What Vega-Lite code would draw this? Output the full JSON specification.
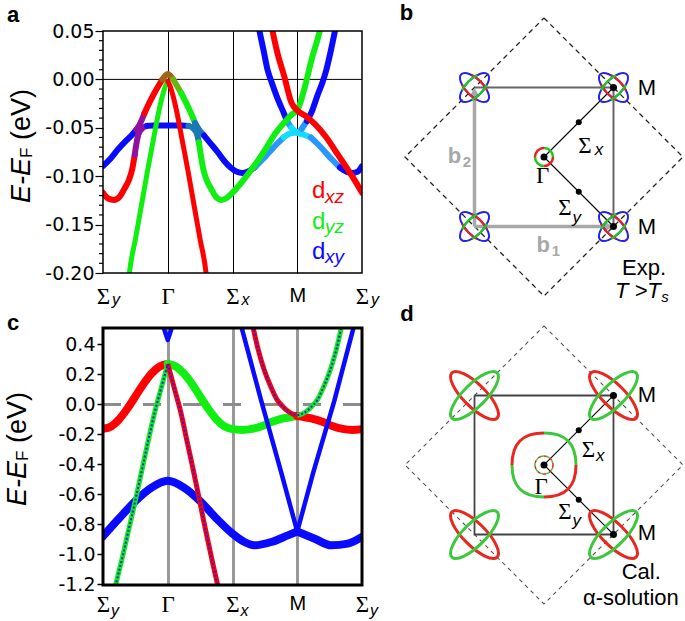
{
"$schema": "https://vega.github.io/schema/vega-lite/v6.json",
"padding": {"left": 3, "top": 2, "right": 0, "bottom": 0},
"background": "white",
"config": {"view": {"stroke": null}, "font": "Liberation Sans"},
"columns": 2,
"bounds": "flush",
"spacing": {"row": 55, "column": 33},
"resolve": {"scale": {"color": "independent"}},
"datasets": {
"A1": [
{"s":"1a","c":"b","k":0,"E":-0.0895},{"s":"1a","c":"b","k":0.114,"E":-0.082},{"s":"1a","c":"b","k":0.222,"E":-0.073},{"s":"1a","c":"b","k":0.331,"E":-0.065},{"s":"1a","c":"b","k":0.439,"E":-0.058},{"s":"1a","c":"b","k":0.516,"E":-0.052},
{"s":"1b","c":"p","k":0.516,"E":-0.052},{"s":"1b","c":"p","k":0.578,"E":-0.045},{"s":"1b","c":"p","k":0.64,"E":-0.035},
{"s":"1c","c":"r","k":0.64,"E":-0.035},{"s":"1c","c":"r","k":0.717,"E":-0.024},{"s":"1c","c":"r","k":0.794,"E":-0.014},{"s":"1c","c":"r","k":0.872,"E":-0.005},{"s":"1c","c":"r","k":0.918,"E":0},
{"s":"1d","c":"br","k":0.918,"E":0},{"s":"1d","c":"br","k":0.964,"E":0.004},{"s":"1d","c":"br","k":1,"E":0.0055},{"s":"1d","c":"br","k":1.036,"E":0.004},{"s":"1d","c":"br","k":1.082,"E":0},
{"s":"1e","c":"ol","k":1.082,"E":0},{"s":"1e","c":"ol","k":1.128,"E":-0.005},{"s":"1e","c":"ol","k":1.206,"E":-0.014},
{"s":"1f","c":"g","k":1.206,"E":-0.014},{"s":"1f","c":"g","k":1.283,"E":-0.024},{"s":"1f","c":"g","k":1.36,"E":-0.035},{"s":"1f","c":"g","k":1.422,"E":-0.045},
{"s":"1g","c":"t","k":1.422,"E":-0.045},{"s":"1g","c":"t","k":1.484,"E":-0.052},{"s":"1g","c":"t","k":1.561,"E":-0.058},
{"s":"1h","c":"b","k":1.561,"E":-0.058},{"s":"1h","c":"b","k":1.66,"E":-0.066},{"s":"1h","c":"b","k":1.77,"E":-0.075},{"s":"1h","c":"b","k":1.87,"E":-0.084},{"s":"1h","c":"b","k":1.97,"E":-0.091},{"s":"1h","c":"b","k":2.07,"E":-0.0955},{"s":"1h","c":"b","k":2.15,"E":-0.0967},{"s":"1h","c":"b","k":2.23,"E":-0.0955},{"s":"1h","c":"b","k":2.34,"E":-0.091},
{"s":"1i","c":"lb","k":2.34,"E":-0.091},{"s":"1i","c":"lb","k":2.46,"E":-0.083},{"s":"1i","c":"lb","k":2.57,"E":-0.075},{"s":"1i","c":"lb","k":2.68,"E":-0.067},{"s":"1i","c":"lb","k":2.79,"E":-0.06},
{"s":"1j","c":"cy","k":2.79,"E":-0.06},{"s":"1j","c":"cy","k":2.88,"E":-0.056},{"s":"1j","c":"cy","k":2.96,"E":-0.055},{"s":"1j","c":"cy","k":3,"E":-0.055},{"s":"1j","c":"cy","k":3.07,"E":-0.051},
{"s":"1k","c":"lb","k":3.07,"E":-0.051},{"s":"1k","c":"lb","k":3.15,"E":-0.043},
{"s":"1l","c":"b","k":3.15,"E":-0.043},{"s":"1l","c":"b","k":3.22,"E":-0.034},{"s":"1l","c":"b","k":3.31,"E":-0.017},{"s":"1l","c":"b","k":3.39,"E":-0.003},{"s":"1l","c":"b","k":3.45,"E":0.01},{"s":"1l","c":"b","k":3.51,"E":0.027},{"s":"1l","c":"b","k":3.57,"E":0.046},{"s":"1l","c":"b","k":3.6,"E":0.056}
],
"A2": [
{"s":"2a","c":"r","k":0,"E":-0.117},{"s":"2a","c":"r","k":0.08,"E":-0.123},{"s":"2a","c":"r","k":0.17,"E":-0.1245},{"s":"2a","c":"r","k":0.26,"E":-0.121},{"s":"2a","c":"r","k":0.33,"E":-0.113},{"s":"2a","c":"r","k":0.4,"E":-0.104},{"s":"2a","c":"r","k":0.45,"E":-0.093},{"s":"2a","c":"r","k":0.49,"E":-0.078},
{"s":"2b","c":"p","k":0.49,"E":-0.078},{"s":"2b","c":"p","k":0.52,"E":-0.065},{"s":"2b","c":"p","k":0.55,"E":-0.056},{"s":"2b","c":"p","k":0.6,"E":-0.051},{"s":"2b","c":"p","k":0.68,"E":-0.048},
{"s":"2c","c":"b","k":0.68,"E":-0.048},{"s":"2c","c":"b","k":0.78,"E":-0.0475},{"s":"2c","c":"b","k":1,"E":-0.0475},{"s":"2c","c":"b","k":1.22,"E":-0.0475},{"s":"2c","c":"b","k":1.32,"E":-0.048},
{"s":"2d","c":"t","k":1.32,"E":-0.048},{"s":"2d","c":"t","k":1.4,"E":-0.051},{"s":"2d","c":"t","k":1.45,"E":-0.056},{"s":"2d","c":"t","k":1.48,"E":-0.065},
{"s":"2e","c":"g","k":1.48,"E":-0.065},{"s":"2e","c":"g","k":1.51,"E":-0.078},{"s":"2e","c":"g","k":1.55,"E":-0.093},{"s":"2e","c":"g","k":1.6,"E":-0.104},{"s":"2e","c":"g","k":1.67,"E":-0.113},{"s":"2e","c":"g","k":1.74,"E":-0.121},{"s":"2e","c":"g","k":1.83,"E":-0.1245},{"s":"2e","c":"g","k":1.92,"E":-0.122},{"s":"2e","c":"g","k":2,"E":-0.117},{"s":"2e","c":"g","k":2.12,"E":-0.108},{"s":"2e","c":"g","k":2.35,"E":-0.088},{"s":"2e","c":"g","k":2.51,"E":-0.072},{"s":"2e","c":"g","k":2.66,"E":-0.056},{"s":"2e","c":"g","k":2.82,"E":-0.043},{"s":"2e","c":"g","k":2.92,"E":-0.036},{"s":"2e","c":"g","k":3,"E":-0.032},{"s":"2e","c":"g","k":3.12,"E":-0.007},{"s":"2e","c":"g","k":3.22,"E":0.02},{"s":"2e","c":"g","k":3.34,"E":0.048},{"s":"2e","c":"g","k":3.37,"E":0.056}
],
"A5": [
{"s":"5a","c":"b","k":2.4,"E":0.056},{"s":"5a","c":"b","k":2.417,"E":0.05},{"s":"5a","c":"b","k":2.48,"E":0.03},{"s":"5a","c":"b","k":2.541,"E":0.01},{"s":"5a","c":"b","k":2.61,"E":-0.004},{"s":"5a","c":"b","k":2.68,"E":-0.017},{"s":"5a","c":"b","k":2.8,"E":-0.036},{"s":"5a","c":"b","k":2.85,"E":-0.044},
{"s":"5b","c":"lb","k":2.85,"E":-0.044},{"s":"5b","c":"lb","k":2.91,"E":-0.05},
{"s":"5c","c":"cy","k":2.91,"E":-0.05},{"s":"5c","c":"cy","k":3,"E":-0.055},{"s":"5c","c":"cy","k":3.1,"E":-0.057},{"s":"5c","c":"cy","k":3.21,"E":-0.06},
{"s":"5d","c":"lb","k":3.21,"E":-0.06},{"s":"5d","c":"lb","k":3.32,"E":-0.067},{"s":"5d","c":"lb","k":3.43,"E":-0.075},{"s":"5d","c":"lb","k":3.54,"E":-0.083},{"s":"5d","c":"lb","k":3.66,"E":-0.091},
{"s":"5e","c":"b","k":3.66,"E":-0.091},{"s":"5e","c":"b","k":3.77,"E":-0.0955},{"s":"5e","c":"b","k":3.85,"E":-0.0967},{"s":"5e","c":"b","k":3.93,"E":-0.0955},{"s":"5e","c":"b","k":4,"E":-0.0895}
],
"A6": [
{"s":"6a","c":"r","k":2.6,"E":0.056},{"s":"6a","c":"r","k":2.618,"E":0.05},{"s":"6a","c":"r","k":2.695,"E":0.027},{"s":"6a","c":"r","k":2.8,"E":0.003},{"s":"6a","c":"r","k":2.91,"E":-0.024},{"s":"6a","c":"r","k":3,"E":-0.032},{"s":"6a","c":"r","k":3.11,"E":-0.037},{"s":"6a","c":"r","k":3.27,"E":-0.046},{"s":"6a","c":"r","k":3.45,"E":-0.06},{"s":"6a","c":"r","k":3.62,"E":-0.077},{"s":"6a","c":"r","k":3.77,"E":-0.092},{"s":"6a","c":"r","k":3.886,"E":-0.104},{"s":"6a","c":"r","k":4,"E":-0.117}
],
"A3": [
{"s":"3a","c":"g","k":0.4,"E":-0.205},{"s":"3a","c":"g","k":0.408,"E":-0.2},{"s":"3a","c":"g","k":0.501,"E":-0.165},{"s":"3a","c":"g","k":0.594,"E":-0.13},{"s":"3a","c":"g","k":0.686,"E":-0.095},{"s":"3a","c":"g","k":0.779,"E":-0.062},{"s":"3a","c":"g","k":0.856,"E":-0.035},{"s":"3a","c":"g","k":0.918,"E":-0.017},{"s":"3a","c":"g","k":0.964,"E":-0.007},{"s":"3a","c":"g","k":1,"E":-0.002},
{"s":"3b","c":"r","k":1,"E":-0.002},{"s":"3b","c":"r","k":1.036,"E":-0.007},{"s":"3b","c":"r","k":1.082,"E":-0.017},{"s":"3b","c":"r","k":1.144,"E":-0.035},{"s":"3b","c":"r","k":1.221,"E":-0.062},{"s":"3b","c":"r","k":1.314,"E":-0.095},{"s":"3b","c":"r","k":1.406,"E":-0.13},{"s":"3b","c":"r","k":1.499,"E":-0.165},{"s":"3b","c":"r","k":1.592,"E":-0.2},{"s":"3b","c":"r","k":1.6,"E":-0.205}
],
"Ct": [
{"s":"c1","c":"r","k":0,"E":-0.163},{"s":"c1","c":"r","k":0.125,"E":-0.147},{"s":"c1","c":"r","k":0.25,"E":-0.099},{"s":"c1","c":"r","k":0.375,"E":-0.029},{"s":"c1","c":"r","k":0.5,"E":0.053},{"s":"c1","c":"r","k":0.625,"E":0.136},{"s":"c1","c":"r","k":0.75,"E":0.206},{"s":"c1","c":"r","k":0.875,"E":0.253},{"s":"c1","c":"r","k":1,"E":0.27},
{"s":"c2","c":"g","k":1,"E":0.27},{"s":"c2","c":"g","k":1.125,"E":0.253},{"s":"c2","c":"g","k":1.25,"E":0.206},{"s":"c2","c":"g","k":1.375,"E":0.136},{"s":"c2","c":"g","k":1.5,"E":0.053},{"s":"c2","c":"g","k":1.625,"E":-0.029},{"s":"c2","c":"g","k":1.75,"E":-0.099},{"s":"c2","c":"g","k":1.875,"E":-0.147},{"s":"c2","c":"g","k":2,"E":-0.165},{"s":"c2","c":"g","k":2.15,"E":-0.17},{"s":"c2","c":"g","k":2.3,"E":-0.163},{"s":"c2","c":"g","k":2.45,"E":-0.145},{"s":"c2","c":"g","k":2.6,"E":-0.118},{"s":"c2","c":"g","k":2.8,"E":-0.092},{"s":"c2","c":"g","k":3,"E":-0.077},
{"s":"c3","c":"r","k":3,"E":-0.077},{"s":"c3","c":"r","k":3.2,"E":-0.092},{"s":"c3","c":"r","k":3.4,"E":-0.118},{"s":"c3","c":"r","k":3.55,"E":-0.145},{"s":"c3","c":"r","k":3.7,"E":-0.163},{"s":"c3","c":"r","k":3.85,"E":-0.17},{"s":"c3","c":"r","k":4,"E":-0.165},
{"s":"c4","c":"b","k":0,"E":-0.88},{"s":"c4","c":"b","k":0.25,"E":-0.76},{"s":"c4","c":"b","k":0.5,"E":-0.645},{"s":"c4","c":"b","k":0.75,"E":-0.555},{"s":"c4","c":"b","k":1,"E":-0.51},{"s":"c4","c":"b","k":1.25,"E":-0.555},{"s":"c4","c":"b","k":1.5,"E":-0.645},{"s":"c4","c":"b","k":1.75,"E":-0.76},{"s":"c4","c":"b","k":2,"E":-0.862},{"s":"c4","c":"b","k":2.17,"E":-0.915},{"s":"c4","c":"b","k":2.34,"E":-0.94},{"s":"c4","c":"b","k":2.6,"E":-0.918},{"s":"c4","c":"b","k":2.855,"E":-0.874},{"s":"c4","c":"b","k":3,"E":-0.848},
{"s":"c5","c":"b","k":3,"E":-0.848},{"s":"c5","c":"b","k":3.27,"E":-0.896},{"s":"c5","c":"b","k":3.525,"E":-0.94},{"s":"c5","c":"b","k":3.78,"E":-0.929},{"s":"c5","c":"b","k":4,"E":-0.884}
],
"Cs": [
{"s":"c6","c":"b","k":2.13,"E":0.53},{"s":"c6","c":"b","k":2.44,"E":0.03},{"s":"c6","c":"b","k":2.75,"E":-0.45},{"s":"c6","c":"b","k":3,"E":-0.848},
{"s":"c7","c":"b","k":3,"E":-0.848},{"s":"c7","c":"b","k":3.25,"E":-0.45},{"s":"c7","c":"b","k":3.57,"E":0.02},{"s":"c7","c":"b","k":3.88,"E":0.53},
{"s":"c12","c":"b","k":0.9,"E":0.56},{"s":"c12","c":"b","k":1,"E":0.43},{"s":"c12","c":"b","k":1.1,"E":0.56}
],
"Ca": [
{"s":"c8","c":"r","k":2.3,"E":0.55},{"s":"c8","c":"r","k":2.32,"E":0.51},{"s":"c8","c":"r","k":2.4,"E":0.36},{"s":"c8","c":"r","k":2.49,"E":0.23},{"s":"c8","c":"r","k":2.6,"E":0.11},{"s":"c8","c":"r","k":2.69,"E":0.03},{"s":"c8","c":"r","k":2.78,"E":-0.015},{"s":"c8","c":"r","k":2.84,"E":-0.04},{"s":"c8","c":"r","k":2.92,"E":-0.062},{"s":"c8","c":"r","k":3,"E":-0.072},
{"s":"c9","c":"g","k":3,"E":-0.072},{"s":"c9","c":"g","k":3.08,"E":-0.062},{"s":"c9","c":"g","k":3.16,"E":-0.04},{"s":"c9","c":"g","k":3.22,"E":-0.015},{"s":"c9","c":"g","k":3.31,"E":0.03},{"s":"c9","c":"g","k":3.4,"E":0.11},{"s":"c9","c":"g","k":3.51,"E":0.23},{"s":"c9","c":"g","k":3.6,"E":0.36},{"s":"c9","c":"g","k":3.68,"E":0.51},{"s":"c9","c":"g","k":3.7,"E":0.55},
{"s":"c10","c":"g","k":0.18,"E":-1.24},{"s":"c10","c":"g","k":0.2,"E":-1.2},{"s":"c10","c":"g","k":0.3,"E":-1.02},{"s":"c10","c":"g","k":0.4,"E":-0.83},{"s":"c10","c":"g","k":0.5,"E":-0.64},{"s":"c10","c":"g","k":0.6,"E":-0.44},{"s":"c10","c":"g","k":0.7,"E":-0.24},{"s":"c10","c":"g","k":0.8,"E":-0.05},{"s":"c10","c":"g","k":0.9,"E":0.11},{"s":"c10","c":"g","k":1,"E":0.27},
{"s":"c11","c":"r","k":1,"E":0.27},{"s":"c11","c":"r","k":1.1,"E":0.11},{"s":"c11","c":"r","k":1.2,"E":-0.05},{"s":"c11","c":"r","k":1.3,"E":-0.25},{"s":"c11","c":"r","k":1.4,"E":-0.45},{"s":"c11","c":"r","k":1.5,"E":-0.66},{"s":"c11","c":"r","k":1.6,"E":-0.87},{"s":"c11","c":"r","k":1.7,"E":-1.07},{"s":"c11","c":"r","k":1.8,"E":-1.26}
],
"LB": [
{"g":"dia","o":0,"u":0,"v":2},{"g":"dia","o":1,"u":2,"v":0},{"g":"dia","o":2,"u":0,"v":-2},{"g":"dia","o":3,"u":-2,"v":0},{"g":"dia","o":4,"u":0,"v":2},
{"g":"sq","o":0,"u":-1,"v":1},{"g":"sq","o":1,"u":1,"v":1},{"g":"sq","o":2,"u":1,"v":-1},
{"g":"b2","o":0,"u":-1,"v":-1},{"g":"b2","o":1,"u":-1,"v":0.95},
{"g":"b1","o":0,"u":-1,"v":-1},{"g":"b1","o":1,"u":0.95,"v":-1},
{"g":"gm1","o":0,"u":0,"v":0},{"g":"gm1","o":1,"u":1,"v":1},
{"g":"gm2","o":0,"u":0,"v":0},{"g":"gm2","o":1,"u":1,"v":-1}
],
"LD": [
{"g":"dia","o":0,"u":0,"v":2},{"g":"dia","o":1,"u":2,"v":0},{"g":"dia","o":2,"u":0,"v":-2},{"g":"dia","o":3,"u":-2,"v":0},{"g":"dia","o":4,"u":0,"v":2},
{"g":"sq","o":0,"u":-1,"v":1},{"g":"sq","o":1,"u":1,"v":1},{"g":"sq","o":2,"u":1,"v":-1},{"g":"sq","o":3,"u":-1,"v":-1},{"g":"sq","o":4,"u":-1,"v":1},
{"g":"gm1","o":0,"u":0,"v":0},{"g":"gm1","o":1,"u":1,"v":1},
{"g":"gm2","o":0,"u":0,"v":0},{"g":"gm2","o":1,"u":1,"v":-1}
],
"corners": [{"u":-1,"v":1},{"u":1,"v":1},{"u":-1,"v":-1},{"u":1,"v":-1}],
"TB": [
{"f":"serif","t":"Γ","u":-0.02,"v":-0.27},{"f":"serif","t":"Σ","u":0.59,"v":0.165},{"f":"serif","t":"Σ","u":0.3,"v":-0.74},
{"f":"sub","t":"x","u":0.79,"v":0.094},{"f":"sub","t":"y","u":0.47,"v":-0.88},
{"f":"sans","t":"M","u":1.48,"v":0.99},{"f":"sans","t":"M","u":1.48,"v":-1.01},{"f":"sans","t":"Exp.","u":1.44,"v":-1.6},
{"f":"it","t":"T >T","u":1.35,"v":-1.93},{"f":"sub2","t":"s","u":1.74,"v":-2.01},
{"f":"gb","t":"b","u":-1.29,"v":0.01},{"f":"gb","t":"b","u":-0.01,"v":-1.27},{"f":"gs","t":"2","u":-1.11,"v":-0.065},{"f":"gs","t":"1","u":0.17,"v":-1.35},
{"f":"lab","t":"b","u":-1.978,"v":2.065}
],
"TD": [
{"f":"serif","t":"Γ","u":-0.04,"v":-0.32},{"f":"serif","t":"Σ","u":0.64,"v":0.22},{"f":"serif","t":"Σ","u":0.3,"v":-0.68},
{"f":"sub","t":"x","u":0.81,"v":0.13},{"f":"sub","t":"y","u":0.47,"v":-0.8},
{"f":"sans","t":"M","u":1.48,"v":1.01},{"f":"sans","t":"M","u":1.48,"v":-0.98},{"f":"sans","t":"Cal.","u":1.4,"v":-1.54},{"f":"sans","t":"α-solution","u":1.25,"v":-1.92},
{"f":"lab","t":"d","u":-1.971,"v":2.173}
]
},
"concat": [
{
"width": 259, "height": 242,
"encoding": {
 "x": {"field":"k","type":"quantitative","scale":{"domain":[0,4],"nice":false,"zero":false},"axis":{"values":[0,1,2,3,4],"labelExpr":"['Σ','Γ','Σ','M','Σ'][datum.value]","ticks":false,"domain":false,"grid":true,"gridColor":"#000","gridWidth":1,"gridOpacity":{"condition":{"test":"datum.value==0||datum.value==4","value":0},"value":1},"labelFontSize":{"condition":{"test":"datum.value==3","value":20},"value":23},"labelFont":{"condition":{"test":"datum.value==3","value":"Liberation Sans"},"value":"Liberation Serif"},"labelColor":"#000","labelPadding":12,"labelFlush":false,"labelOverlap":false,"labelBound":false,"title":null}},
 "y": {"field":"E","type":"quantitative","scale":{"domain":[-0.2,0.05],"nice":false,"zero":false},"axis":{"values":[-0.2,-0.15,-0.1,-0.05,0,0.05],"labelExpr":"replace(format(datum.value,'.2f'),'\u2212','-')","tickSize":8,"tickColor":"#000","tickWidth":1.2,"domain":false,"grid":false,"labelFont":"DejaVu Sans","labelFontSize":19,"labelColor":"#000","labelPadding":1,"labelOverlap":false,"labelBound":false,"labelFlush":false,"title":null}}
},
"layer": [
 {"data":{"values":[{"k":0,"k2":4,"E":0}]},"mark":{"type":"rule","color":"#000","strokeWidth":1},"encoding":{"x2":{"field":"k2"}}},
 {"data":{"name":"A5"},"mark":{"type":"line","strokeWidth":6,"clip":true,"interpolate":"monotone","strokeCap":"round","strokeJoin":"round"},"encoding":{"detail":{"field":"s"},"color":{"field":"c","type":"nominal","scale":{"domain":["r","g","b","p","br","ol","t","lb","cy"],"range":["#ff0000","#11ee11","#0a0aff","#9010a0","#a0641a","#6ab414","#1a78b4","#2a96ff","#16dcff"]},"legend":null}}},
 {"data":{"name":"A1"},"mark":{"type":"line","strokeWidth":6,"clip":true,"interpolate":"monotone","strokeCap":"round","strokeJoin":"round"},"encoding":{"detail":{"field":"s"},"color":{"field":"c","type":"nominal","scale":{"domain":["r","g","b","p","br","ol","t","lb","cy"],"range":["#ff0000","#11ee11","#0a0aff","#9010a0","#a0641a","#6ab414","#1a78b4","#2a96ff","#16dcff"]},"legend":null}}},
 {"data":{"name":"A2"},"mark":{"type":"line","strokeWidth":6,"clip":true,"interpolate":"monotone","strokeCap":"round","strokeJoin":"round"},"encoding":{"detail":{"field":"s"},"color":{"field":"c","type":"nominal","scale":{"domain":["r","g","b","p","br","ol","t","lb","cy"],"range":["#ff0000","#11ee11","#0a0aff","#9010a0","#a0641a","#6ab414","#1a78b4","#2a96ff","#16dcff"]},"legend":null}}},
 {"data":{"name":"A6"},"mark":{"type":"line","strokeWidth":6,"clip":true,"interpolate":"monotone","strokeCap":"round","strokeJoin":"round"},"encoding":{"detail":{"field":"s"},"color":{"field":"c","type":"nominal","scale":{"domain":["r","g","b","p","br","ol","t","lb","cy"],"range":["#ff0000","#11ee11","#0a0aff","#9010a0","#a0641a","#6ab414","#1a78b4","#2a96ff","#16dcff"]},"legend":null}}},
 {"data":{"name":"A3"},"mark":{"type":"line","strokeWidth":5,"clip":true,"interpolate":"monotone","strokeCap":"round","strokeJoin":"round"},"encoding":{"detail":{"field":"s"},"color":{"field":"c","type":"nominal","scale":{"domain":["r","g","b","p","br","ol","t","lb","cy"],"range":["#ff0000","#11ee11","#0a0aff","#9010a0","#a0641a","#6ab414","#1a78b4","#2a96ff","#16dcff"]},"legend":null}}},
 {"data":{"values":[{"k":0,"E":0.04},{"k":0,"E":0.03},{"k":0,"E":0.02},{"k":0,"E":0.01},{"k":0,"E":-0.01},{"k":0,"E":-0.02},{"k":0,"E":-0.03},{"k":0,"E":-0.04},{"k":0,"E":-0.06},{"k":0,"E":-0.07},{"k":0,"E":-0.08},{"k":0,"E":-0.09},{"k":0,"E":-0.11},{"k":0,"E":-0.12},{"k":0,"E":-0.13},{"k":0,"E":-0.14},{"k":0,"E":-0.16},{"k":0,"E":-0.17},{"k":0,"E":-0.18},{"k":0,"E":-0.19}]},"mark":{"type":"tick","orient":"horizontal","size":4,"thickness":1.2,"color":"#000","xOffset":-2,"opacity":1}},
 {"data":{"values":[{"k":0,"k2":4,"E":-0.2,"E2":0.05}]},"mark":{"type":"rect","fillOpacity":0,"stroke":"#000","strokeWidth":1.5},"encoding":{"x2":{"field":"k2"},"y2":{"field":"E2"}}},
 {"data":{"values":[{"k":0,"E":-0.2,"t":"y"},{"k":2,"E":-0.2,"t":"x"},{"k":4,"E":-0.2,"t":"y"}]},"mark":{"type":"text","font":"Liberation Sans","fontStyle":"italic","fontSize":16,"dx":13,"dy":27,"color":"#000"},"encoding":{"text":{"field":"t"}}},
 {"data":{"values":[{"k":3.33,"E":-0.1158,"t":"d","c":"r"},{"k":3.33,"E":-0.1468,"t":"d","c":"g"},{"k":3.33,"E":-0.1778,"t":"d","c":"b"}]},"mark":{"type":"text","font":"Liberation Sans","fontSize":24},"encoding":{"text":{"field":"t"},"color":{"field":"c","type":"nominal","scale":{"domain":["r","g","b","p","br","ol","t","lb","cy"],"range":["#ff0000","#11ee11","#0a0aff","#9010a0","#a0641a","#6ab414","#1a78b4","#2a96ff","#16dcff"]},"legend":null}}},
 {"data":{"values":[{"k":3.577,"E":-0.1215,"t":"xz","c":"r"},{"k":3.577,"E":-0.1525,"t":"yz","c":"g"},{"k":3.577,"E":-0.1835,"t":"xy","c":"b"}]},"mark":{"type":"text","font":"Liberation Sans","fontStyle":"italic","fontSize":19},"encoding":{"text":{"field":"t"},"color":{"field":"c","type":"nominal","scale":{"domain":["r","g","b","p","br","ol","t","lb","cy"],"range":["#ff0000","#11ee11","#0a0aff","#9010a0","#a0641a","#6ab414","#1a78b4","#2a96ff","#16dcff"]},"legend":null}}},
 {"data":{"values":[{"k":0,"E":-0.075}]},"mark":{"type":"text","text":"E-E","font":"Liberation Sans","fontStyle":"italic","fontSize":27,"angle":270,"dx":-28.5,"dy":-81,"color":"#000"}},
 {"data":{"values":[{"k":0,"E":-0.075}]},"mark":{"type":"text","text":"F","font":"Liberation Sans","fontSize":17,"angle":270,"dx":-0.8,"dy":-76,"color":"#000"}},
 {"data":{"values":[{"k":0,"E":-0.075}]},"mark":{"type":"text","text":"(eV)","font":"Liberation Sans","fontSize":27,"angle":270,"dx":37.5,"dy":-81,"color":"#000"}},
 {"data":{"values":[{"k":0,"E":0.05}]},"mark":{"type":"text","text":"a","font":"Liberation Sans","fontWeight":"bold","fontSize":22,"dx":-90,"dy":-16,"color":"#000"}}
]
},
{
"width": 290, "height": 242,
"encoding": {
 "x": {"field":"u","type":"quantitative","scale":{"domain":[-2.144,2.029],"nice":false,"zero":false},"axis":null},
 "y": {"field":"v","type":"quantitative","scale":{"domain":[-1.669,1.813],"nice":false,"zero":false},"axis":null}
},
"layer": [
 {"data":{"name":"LB"},"transform":[{"filter":"datum.g=='dia'"}],"mark":{"type":"line","color":"#222","strokeWidth":1.3,"strokeDash":[5,4]},"encoding":{"order":{"field":"o"}}},
 {"data":{"name":"LB"},"transform":[{"filter":"datum.g=='sq'"}],"mark":{"type":"line","color":"#666","strokeWidth":2},"encoding":{"order":{"field":"o"}}},
 {"data":{"name":"LB"},"transform":[{"filter":"datum.g=='b1'||datum.g=='b2'"}],"mark":{"type":"line","color":"#a8a8a8","strokeWidth":3.5},"encoding":{"detail":{"field":"g"},"order":{"field":"o"}}},
 {"data":{"values":[{"u":0.93,"v":-1}]},"mark":{"type":"point","shape":"triangle-right","filled":true,"color":"#a8a8a8","size":110,"opacity":1}},
 {"data":{"values":[{"u":-1,"v":0.93}]},"mark":{"type":"point","shape":"triangle-up","filled":true,"color":"#a8a8a8","size":110,"opacity":1}},
 {"data":{"name":"LB"},"transform":[{"filter":"datum.g=='gm1'||datum.g=='gm2'"}],"mark":{"type":"line","color":"#000","strokeWidth":1.1},"encoding":{"detail":{"field":"g"},"order":{"field":"o"}}},
 {"data":{"name":"corners"},"mark":{"type":"point","shape":"M1,0C1,0.2485,0.5523,0.45,0,0.45C-0.5523,0.45,-1,0.2485,-1,0C-1,-0.2485,-0.5523,-0.45,0,-0.45C0.5523,-0.45,1,-0.2485,1,0Z","filled":false,"stroke":"#2424e8","strokeWidth":2,"size":1400,"angle":45,"opacity":1}},
 {"data":{"name":"corners"},"mark":{"type":"point","shape":"M1,0C1,0.2485,0.5523,0.45,0,0.45C-0.5523,0.45,-1,0.2485,-1,0C-1,-0.2485,-0.5523,-0.45,0,-0.45C0.5523,-0.45,1,-0.2485,1,0Z","filled":false,"stroke":"#2424e8","strokeWidth":2,"size":1400,"angle":315,"opacity":1}},
 {"data":{"name":"corners"},"mark":{"type":"point","shape":"M0.574,0.369C0.229,0.477,-0.229,0.477,-0.574,0.369M0.574,-0.369C0.229,-0.477,-0.229,-0.477,-0.574,-0.369","filled":false,"stroke":"#e82020","strokeWidth":2.2,"size":1400,"angle":45,"opacity":1}},
 {"data":{"name":"corners"},"mark":{"type":"point","shape":"M0.574,0.369C0.229,0.477,-0.229,0.477,-0.574,0.369M0.574,-0.369C0.229,-0.477,-0.229,-0.477,-0.574,-0.369","filled":false,"stroke":"#1ec81e","strokeWidth":2.2,"size":1400,"angle":315,"opacity":1}},
 {"data":{"values":[{"u":0,"v":0}]},"mark":{"type":"point","shape":"M0,-1C-0.5523,-1,-1,-0.5523,-1,0M0,1C0.5523,1,1,0.5523,1,0","filled":false,"stroke":"#e82020","strokeWidth":2.5,"size":324,"opacity":1}},
 {"data":{"values":[{"u":0,"v":0}]},"mark":{"type":"point","shape":"M1,0C1,-0.5523,0.5523,-1,0,-1M-1,0C-1,0.5523,-0.5523,1,0,1","filled":false,"stroke":"#1ec81e","strokeWidth":2.5,"size":324,"opacity":1}},
 {"data":{"values":[{"u":0,"v":0},{"u":1,"v":1},{"u":1,"v":-1}]},"mark":{"type":"point","shape":"circle","filled":true,"color":"#000","size":49,"opacity":1}},
 {"data":{"values":[{"u":0.5,"v":0.5},{"u":0.5,"v":-0.5}]},"mark":{"type":"point","shape":"circle","filled":true,"color":"#000","size":36,"opacity":1}},
 {"data":{"name":"TB"},"transform":[{"filter":"datum.f=='serif'"}],"mark":{"type":"text","font":"Liberation Serif","fontSize":23,"color":"#000"},"encoding":{"text":{"field":"t"}}},
 {"data":{"name":"TB"},"transform":[{"filter":"datum.f=='sub'"}],"mark":{"type":"text","font":"Liberation Sans","fontStyle":"italic","fontSize":17,"color":"#000"},"encoding":{"text":{"field":"t"}}},
 {"data":{"name":"TB"},"transform":[{"filter":"datum.f=='sans'"}],"mark":{"type":"text","font":"Liberation Sans","fontSize":22,"color":"#000"},"encoding":{"text":{"field":"t"}}},
 {"data":{"name":"TB"},"transform":[{"filter":"datum.f=='it'"}],"mark":{"type":"text","font":"Liberation Sans","fontStyle":"italic","fontSize":22,"color":"#000"},"encoding":{"text":{"field":"t"}}},
 {"data":{"name":"TB"},"transform":[{"filter":"datum.f=='sub2'"}],"mark":{"type":"text","font":"Liberation Sans","fontStyle":"italic","fontSize":15,"color":"#000"},"encoding":{"text":{"field":"t"}}},
 {"data":{"name":"TB"},"transform":[{"filter":"datum.f=='gb'"}],"mark":{"type":"text","font":"Liberation Sans","fontWeight":"bold","fontSize":22,"color":"#a8a8a8"},"encoding":{"text":{"field":"t"}}},
 {"data":{"name":"TB"},"transform":[{"filter":"datum.f=='gs'"}],"mark":{"type":"text","font":"Liberation Sans","fontWeight":"bold","fontSize":15,"color":"#a8a8a8"},"encoding":{"text":{"field":"t"}}},
 {"data":{"name":"TB"},"transform":[{"filter":"datum.f=='lab'"}],"mark":{"type":"text","font":"Liberation Sans","fontWeight":"bold","fontSize":22,"color":"#000"},"encoding":{"text":{"field":"t"}}}
]
},
{
"width": 259, "height": 257,
"encoding": {
 "x": {"field":"k","type":"quantitative","scale":{"domain":[0,4],"nice":false,"zero":false},"axis":{"values":[0,1,2,3,4],"labelExpr":"['Σ','Γ','Σ','M','Σ'][datum.value]","ticks":false,"domain":false,"grid":true,"gridColor":"#999","gridWidth":3,"gridOpacity":{"condition":{"test":"datum.value==0||datum.value==4","value":0},"value":1},"labelFontSize":{"condition":{"test":"datum.value==3","value":20},"value":23},"labelFont":{"condition":{"test":"datum.value==3","value":"Liberation Sans"},"value":"Liberation Serif"},"labelColor":"#000","labelPadding":8,"labelFlush":false,"labelOverlap":false,"labelBound":false,"title":null}},
 "y": {"field":"E","type":"quantitative","scale":{"domain":[-1.205,0.51],"nice":false,"zero":false},"axis":{"values":[-1.2,-1,-0.8,-0.6,-0.4,-0.2,0,0.2,0.4],"labelExpr":"replace(format(datum.value,'.1f'),'\u2212','-')","tickSize":6,"tickColor":"#000","tickWidth":1.5,"domain":false,"grid":false,"labelFont":"DejaVu Sans","labelFontSize":19,"labelColor":"#000","labelPadding":2,"labelOverlap":false,"labelBound":false,"labelFlush":false,"title":null}}
},
"layer": [
 {"data":{"values":[{"k":0,"k2":4,"E":0}]},"mark":{"type":"rule","color":"#8c8c8c","strokeWidth":3,"strokeDash":[18,22]},"encoding":{"x2":{"field":"k2"}}},
 {"data":{"name":"Ct"},"mark":{"type":"line","strokeWidth":8,"clip":true,"interpolate":"monotone","strokeCap":"round","strokeJoin":"round"},"encoding":{"detail":{"field":"s"},"color":{"field":"c","type":"nominal","scale":{"domain":["r","g","b","p","br","ol","t","lb","cy"],"range":["#ff0000","#11ee11","#0a0aff","#9010a0","#a0641a","#6ab414","#1a78b4","#2a96ff","#16dcff"]},"legend":null}}},
 {"data":{"name":"Cs"},"mark":{"type":"line","strokeWidth":4.5,"clip":true,"strokeJoin":"round"},"encoding":{"detail":{"field":"s"},"color":{"field":"c","type":"nominal","scale":{"domain":["r","g","b","p","br","ol","t","lb","cy"],"range":["#ff0000","#11ee11","#0a0aff","#9010a0","#a0641a","#6ab414","#1a78b4","#2a96ff","#16dcff"]},"legend":null}}},
 {"data":{"name":"Ca"},"mark":{"type":"line","strokeWidth":5,"clip":true,"interpolate":"monotone","strokeJoin":"round"},"encoding":{"detail":{"field":"s"},"color":{"field":"c","type":"nominal","scale":{"domain":["r","g","b","p","br","ol","t","lb","cy"],"range":["#ff0000","#11ee11","#0a0aff","#9010a0","#a0641a","#6ab414","#1a78b4","#2a96ff","#16dcff"]},"legend":null}}},
 {"data":{"name":"Ca"},"mark":{"type":"line","strokeWidth":2,"clip":true,"interpolate":"monotone","color":"#1a1aff","strokeDash":[2,2]},"encoding":{"detail":{"field":"s"}}},
 {"data":{"values":[{"k":0,"k2":4,"E":-1.205,"E2":0.51}]},"mark":{"type":"rect","fillOpacity":0,"stroke":"#000","strokeWidth":3},"encoding":{"x2":{"field":"k2"},"y2":{"field":"E2"}}},
 {"data":{"values":[{"k":0,"E":-1.205,"t":"y"},{"k":2,"E":-1.205,"t":"x"},{"k":4,"E":-1.205,"t":"y"}]},"mark":{"type":"text","font":"Liberation Sans","fontStyle":"italic","fontSize":16,"dx":12,"dy":26,"color":"#000"},"encoding":{"text":{"field":"t"}}},
 {"data":{"values":[{"k":0,"E":-0.3475}]},"mark":{"type":"text","text":"E-E","font":"Liberation Sans","fontStyle":"italic","fontSize":27,"angle":270,"dx":-27,"dy":-85,"color":"#000"}},
 {"data":{"values":[{"k":0,"E":-0.3475}]},"mark":{"type":"text","text":"F","font":"Liberation Sans","fontSize":17,"angle":270,"dx":0.7,"dy":-80,"color":"#000"}},
 {"data":{"values":[{"k":0,"E":-0.3475}]},"mark":{"type":"text","text":"(eV)","font":"Liberation Sans","fontSize":27,"angle":270,"dx":39,"dy":-85,"color":"#000"}},
 {"data":{"values":[{"k":0,"E":0.51}]},"mark":{"type":"text","text":"c","font":"Liberation Sans","fontWeight":"bold","fontSize":22,"dx":-90,"dy":-5,"color":"#000"}}
]
},
{
"width": 290, "height": 257,
"encoding": {
 "x": {"field":"u","type":"quantitative","scale":{"domain":[-2.144,2.029],"nice":false,"zero":false},"axis":null},
 "y": {"field":"v","type":"quantitative","scale":{"domain":[-1.727,1.971],"nice":false,"zero":false},"axis":null}
},
"layer": [
 {"data":{"name":"LD"},"transform":[{"filter":"datum.g=='dia'"}],"mark":{"type":"line","color":"#555","strokeWidth":1.1,"strokeDash":[4,4]},"encoding":{"order":{"field":"o"}}},
 {"data":{"name":"LD"},"transform":[{"filter":"datum.g=='sq'"}],"mark":{"type":"line","color":"#444","strokeWidth":1.8},"encoding":{"order":{"field":"o"}}},
 {"data":{"name":"LD"},"transform":[{"filter":"datum.g=='gm1'||datum.g=='gm2'"}],"mark":{"type":"line","color":"#000","strokeWidth":1.1},"encoding":{"detail":{"field":"g"},"order":{"field":"o"}}},
 {"data":{"name":"corners"},"mark":{"type":"point","shape":"M1,0C1,0.1933,0.5523,0.35,0,0.35C-0.5523,0.35,-1,0.1933,-1,0C-1,-0.1933,-0.5523,-0.35,0,-0.35C0.5523,-0.35,1,-0.1933,1,0Z","filled":false,"stroke":"#e8281e","strokeWidth":3,"size":4096,"angle":45,"opacity":1}},
 {"data":{"name":"corners"},"mark":{"type":"point","shape":"M1,0C1,0.1933,0.5523,0.35,0,0.35C-0.5523,0.35,-1,0.1933,-1,0C-1,-0.1933,-0.5523,-0.35,0,-0.35C0.5523,-0.35,1,-0.1933,1,0Z","filled":false,"stroke":"#3cc83c","strokeWidth":3,"size":4096,"angle":315,"opacity":1}},
 {"data":{"values":[{"u":0,"v":0}]},"mark":{"type":"point","shape":"M0,-1C-0.68,-1,-1,-0.68,-1,0M0,1C0.68,1,1,0.68,1,0","filled":false,"stroke":"#e8281e","strokeWidth":3,"size":4096,"opacity":1}},
 {"data":{"values":[{"u":0,"v":0}]},"mark":{"type":"point","shape":"M1,0C1,-0.68,0.68,-1,0,-1M-1,0C-1,0.68,-0.68,1,0,1","filled":false,"stroke":"#3cc83c","strokeWidth":3,"size":4096,"opacity":1}},
 {"data":{"values":[{"u":0,"v":0}]},"mark":{"type":"point","shape":"circle","filled":false,"stroke":"#e8281e","strokeWidth":1.5,"strokeDash":[3,3],"size":324,"opacity":1}},
 {"data":{"values":[{"u":0,"v":0}]},"mark":{"type":"point","shape":"circle","filled":false,"stroke":"#3cc83c","strokeWidth":1.5,"strokeDash":[3,3],"strokeDashOffset":3,"size":324,"opacity":1}},
 {"data":{"values":[{"u":0,"v":0},{"u":1,"v":1},{"u":1,"v":-1}]},"mark":{"type":"point","shape":"circle","filled":true,"color":"#000","size":49,"opacity":1}},
 {"data":{"values":[{"u":0.5,"v":0.5},{"u":0.5,"v":-0.5}]},"mark":{"type":"point","shape":"circle","filled":true,"color":"#000","size":36,"opacity":1}},
 {"data":{"name":"TD"},"transform":[{"filter":"datum.f=='serif'"}],"mark":{"type":"text","font":"Liberation Serif","fontSize":23,"color":"#000"},"encoding":{"text":{"field":"t"}}},
 {"data":{"name":"TD"},"transform":[{"filter":"datum.f=='sub'"}],"mark":{"type":"text","font":"Liberation Sans","fontStyle":"italic","fontSize":17,"color":"#000"},"encoding":{"text":{"field":"t"}}},
 {"data":{"name":"TD"},"transform":[{"filter":"datum.f=='sans'"}],"mark":{"type":"text","font":"Liberation Sans","fontSize":22,"color":"#000"},"encoding":{"text":{"field":"t"}}},
 {"data":{"name":"TD"},"transform":[{"filter":"datum.f=='lab'"}],"mark":{"type":"text","font":"Liberation Sans","fontWeight":"bold","fontSize":22,"color":"#000"},"encoding":{"text":{"field":"t"}}}
]
}
]
}
